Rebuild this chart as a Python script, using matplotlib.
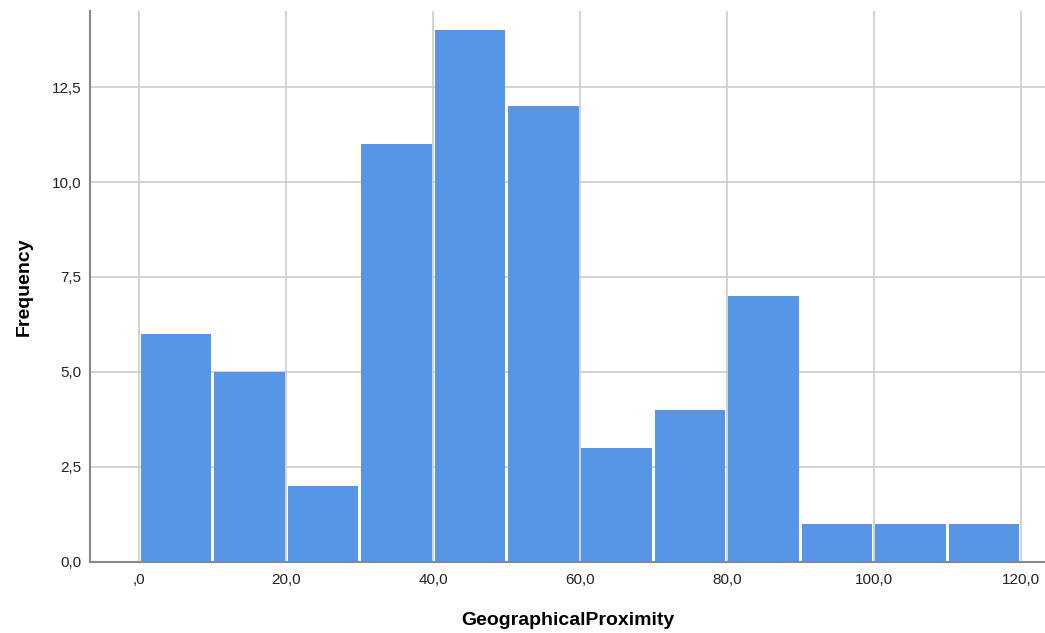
import matplotlib.pyplot as plt
import numpy as np

plt.rcParams['font.family'] = ['Liberation Sans', 'DejaVu Sans']

# Histogram of GeographicalProximity (bin width 10)
bin_edges = [0, 10, 20, 30, 40, 50, 60, 70, 80, 90, 100, 110, 120]
counts = [6, 5, 2, 11, 14, 12, 3, 4, 7, 1, 1, 1]
x_ticks = [0, 20, 40, 60, 80, 100, 120]
x_tick_labels = [',0', '20,0', '40,0', '60,0', '80,0', '100,0', '120,0']
y_ticks = [0, 2.5, 5, 7.5, 10, 12.5]
y_tick_labels = ['0,0', '2,5', '5,0', '7,5', '10,0', '12,5']

fig = plt.figure(figsize=(10.45, 6.33), dpi=100)
ax = fig.add_axes([0.0861, 0.1122, 0.9139, 0.8704])

lefts = np.array(bin_edges[:-1])
widths = np.diff(bin_edges)
ax.bar(lefts + 0.2, counts, width=widths - 0.4, align='edge',
       color='#5596e6', edgecolor='none', zorder=2)

ax.set_xlim(-6.7, 123.3)
ax.set_ylim(0, 14.5)
ax.set_xticks(x_ticks)
ax.set_xticklabels(x_tick_labels)
ax.set_yticks(y_ticks)
ax.set_yticklabels(y_tick_labels)
ax.tick_params(length=0, labelsize=11, colors='#222222', pad=8)
ax.tick_params(axis='y', pad=6)

ax.grid(True, color='#cccccc', linewidth=1.2, zorder=0)
ax.set_axisbelow(True)

for side in ['top', 'right']:
    ax.spines[side].set_visible(False)
ax.spines['left'].set_color('#888888')
ax.spines['bottom'].set_color('#888888')
ax.spines['left'].set_linewidth(1.5)
ax.spines['bottom'].set_linewidth(1.5)

ax.set_xlabel('GeographicalProximity', fontsize=14, fontweight='bold', labelpad=18)
ax.set_ylabel('Frequency', fontsize=14, fontweight='bold', labelpad=14)

fig.savefig('out.png', dpi=100)
